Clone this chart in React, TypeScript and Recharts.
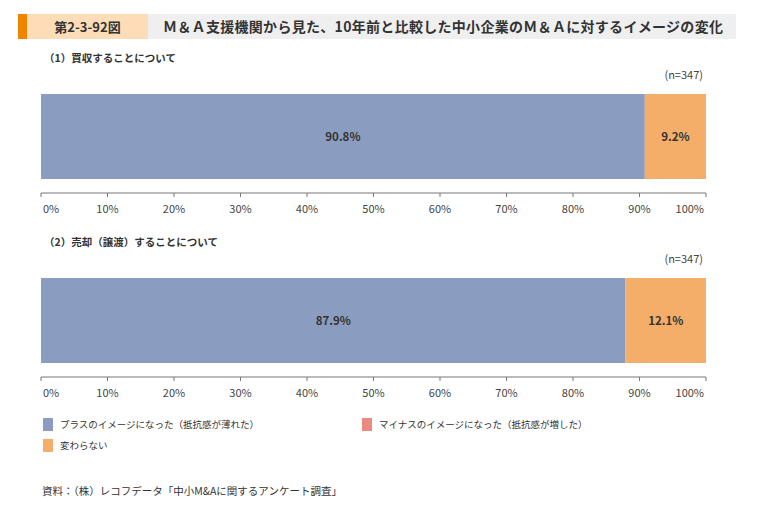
import React from "react";
import { BarChart, Bar, XAxis, YAxis, LabelList } from "recharts";

const FONT = '"Noto Sans CJK JP", "Noto Sans", sans-serif';

const categories = ["（1）買収することについて", "（2）売却（譲渡）することについて"];
const plusValues = [90.8, 87.9];
const minusValues = [0, 0];
const neutralValues = [9.2, 12.1];
const sampleSizes = [347, 347];
const tickValues = [0, 10, 20, 30, 40, 50, 60, 70, 80, 90, 100];

const seriesNames = [
    "プラスのイメージになった（抵抗感が薄れた）",
    "マイナスのイメージになった（抵抗感が増した）",
    "変わらない",
];
const seriesKeys = ["plus", "minus", "neutral"];
const seriesColors = ["#8A9DC0", "#E98B7F", "#F5AE6A"];

const AxisTick = (props: any) => {
    const { x, y, payload } = props;
    const v = payload.value;
    let anchor: "start" | "middle" | "end" = "middle";
    let dx = 0;
    if (v === 0) {
        anchor = "start";
        dx = 2;
    } else if (v === 100) {
        anchor = "end";
        dx = -2;
    }
    return (
        <text
            x={x + dx}
            y={y}
            dy="0.71em"
            textAnchor={anchor}
            fontSize={11}
            fill="#444"
            fontFamily={FONT}
        >
            {`${v}%`}
        </text>
    );
};

const pct = (v: any) => (v ? `${Number(v).toFixed(1)}%` : "");

const Panel = ({ index, top }: { index: number; top: number }) => {
    const data = [
        {
            name: categories[index],
            plus: plusValues[index],
            minus: minusValues[index],
            neutral: neutralValues[index],
        },
    ];
    return (
        <div style={{ position: "absolute", left: 0, top }}>
            <div
                style={{
                    position: "absolute",
                    left: 44,
                    top: -10,
                    fontSize: 10.5,
                    fontWeight: 700,
                    color: "#333",
                    whiteSpace: "nowrap",
                }}
            >
                {categories[index]}
            </div>
            <div
                style={{
                    position: "absolute",
                    left: 600,
                    width: 103,
                    top: 6,
                    fontSize: 11,
                    color: "#444",
                    textAlign: "right",
                }}
            >
                {`(n=${sampleSizes[index]})`}
            </div>
            <BarChart
                width={760}
                height={160}
                data={data}
                layout="vertical"
                margin={{ top: 19, right: 54, left: 41, bottom: 0 }}
                barSize={85}
            >
                <XAxis
                    type="number"
                    domain={[0, 100]}
                    ticks={tickValues}
                    interval={0}
                    height={27}
                    tick={<AxisTick />}
                    tickSize={4}
                    tickMargin={8}
                    axisLine={{ stroke: "#777" }}
                    tickLine={{ stroke: "#777" }}
                />
                <YAxis
                    type="category"
                    dataKey="name"
                    width={0}
                    tick={false}
                    tickLine={false}
                    axisLine={{ stroke: "#777" }}
                />
                {seriesKeys.map((key, i) => (
                    <Bar
                        key={key}
                        dataKey={key}
                        stackId="a"
                        fill={seriesColors[i]}
                        isAnimationActive={false}
                    >
                        {key !== "minus" && (
                            <LabelList
                                dataKey={key}
                                position="center"
                                formatter={pct}
                                fill="#333"
                                fontSize={11.5}
                                fontWeight={700}
                                fontFamily={FONT}
                            />
                        )}
                    </Bar>
                ))}
            </BarChart>
        </div>
    );
};

const legendPos = [
    { left: 43, top: 417 },
    { left: 362, top: 417 },
    { left: 43, top: 438 },
];

export default function App() {
    return (
        <div
            style={{
                position: "absolute",
                left: 0,
                top: 0,
                width: 760,
                height: 507,
                background: "#fff",
                fontFamily: FONT,
                overflow: "hidden",
            }}
        >
            <div style={{ position: "absolute", left: 18, top: 14, width: 9, height: 25, background: "#F08300" }} />
            <div
                style={{
                    position: "absolute",
                    left: 27,
                    top: 14,
                    width: 121,
                    height: 25,
                    background: "#FDDDB8",
                    fontSize: 13,
                    fontWeight: 700,
                    color: "#333",
                    lineHeight: "25px",
                    textAlign: "center",
                }}
            >
                第2-3-92図
            </div>
            <div
                style={{
                    position: "absolute",
                    left: 148,
                    top: 14,
                    width: 588,
                    height: 25,
                    background: "#EFEFEF",
                    fontSize: 14,
                    fontWeight: 700,
                    color: "#333",
                    lineHeight: "25px",
                    paddingLeft: 15,
                    letterSpacing: 0.3,
                    boxSizing: "border-box",
                    whiteSpace: "nowrap",
                }}
            >
                Ｍ＆Ａ支援機関から見た、10年前と比較した中小企業のＭ＆Ａに対するイメージの変化
            </div>

            <Panel index={0} top={60} />
            <Panel index={1} top={244} />

            {seriesNames.map((name, i) => (
                <div
                    key={name}
                    style={{
                        position: "absolute",
                        left: legendPos[i].left,
                        top: legendPos[i].top,
                        display: "flex",
                        alignItems: "center",
                        fontSize: 9.5,
                        color: "#333",
                        whiteSpace: "nowrap",
                    }}
                >
                    <span
                        style={{
                            display: "inline-block",
                            width: 10,
                            height: 13,
                            background: seriesColors[i],
                            marginRight: 7,
                        }}
                    />
                    {name}
                </div>
            ))}

            <div
                style={{
                    position: "absolute",
                    left: 42,
                    top: 483,
                    fontSize: 10.5,
                    color: "#333",
                    whiteSpace: "nowrap",
                }}
            >
                資料：（株）レコフデータ「中小M&Aに関するアンケート調査」
            </div>
        </div>
    );
}
